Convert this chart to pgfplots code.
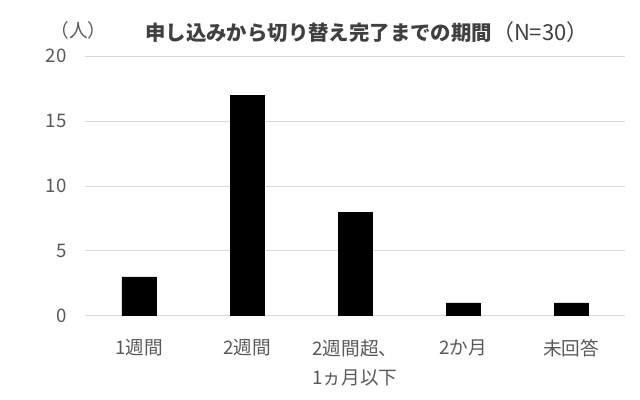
\documentclass[border=0pt]{standalone}
\usepackage{pgfplots}
\pgfplotsset{compat=1.18}
\usepackage{fontspec}
\setmainfont{Noto Sans CJK JP}
\definecolor{txtgray}{HTML}{595959}
\definecolor{titlegray}{HTML}{404040}
\definecolor{gridgray}{HTML}{D9D9D9}
\begin{document}
\begin{tikzpicture}
\path[use as bounding box] (0,0) rectangle (480pt,300pt);
\begin{axis}[
  at={(63.75pt,63pt)}, anchor=south west,
  scale only axis,
  width=405pt, height=195pt,
  xmin=-0.5, xmax=4.5,
  ymin=0, ymax=20,
  ytick={0,5,10,15,20},
  xtick={0,1,2,3,4},
  xticklabels={1週間,2週間,{2週間超、\\1ヵ月以下},2か月,未回答},
  ymajorgrids,
  grid style={gridgray, line width=0.75pt},
  axis line style={draw=none},
  major tick length=0pt,
  /pgf/number format/assume math mode=true,
  tick label style={text=txtgray, font=\fontsize{14}{22}\selectfont},
  xticklabel style={align=center, anchor=north, yshift=-14pt},
  yticklabel style={xshift=-10.3pt},
]
\addplot[ybar, bar width=25.5pt, fill=black, draw=black] coordinates {
  (0,3) (1,17) (2,8) (3,1) (4,1)
};
\end{axis}
\node[anchor=west, text=titlegray, font=\fontsize{15.3}{18}\selectfont, inner sep=0pt]
  at (108.75pt,276pt) {\textbf{申し込みから切り替え完了までの期間}{\fontsize{16.5}{18}\selectfont（N=30）}};
\node[text=txtgray, font=\fontsize{14}{16}\selectfont, inner sep=0pt]
  at (58.9pt,277.5pt) {（人）};
\end{tikzpicture}
\end{document}
